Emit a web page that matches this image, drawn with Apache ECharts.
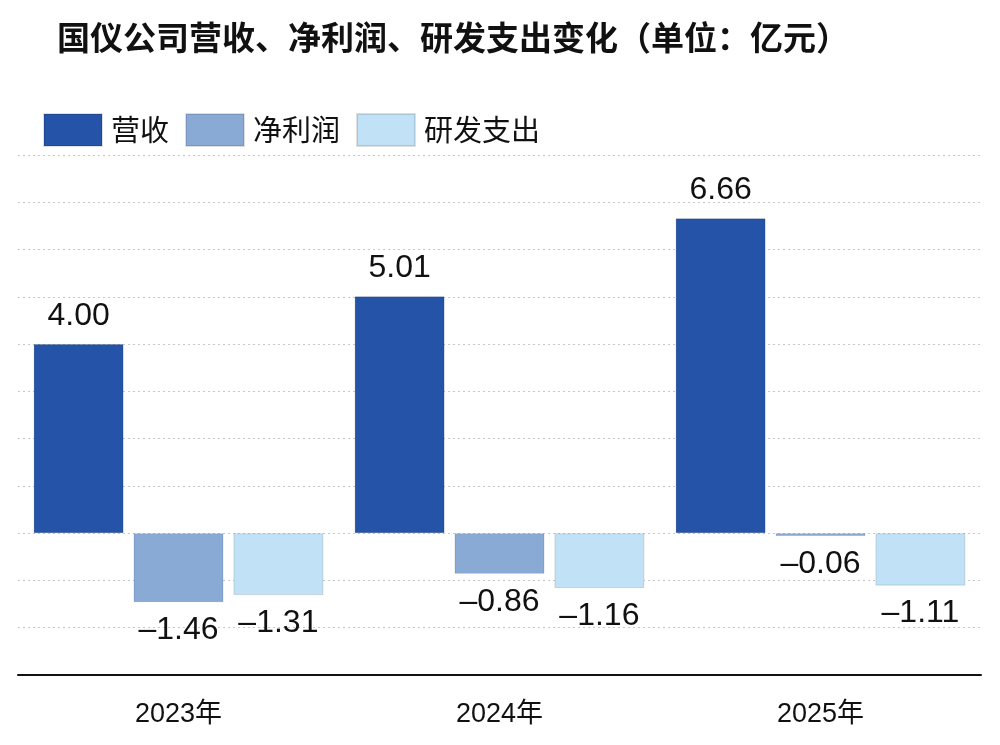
<!DOCTYPE html><html><head><meta charset="utf-8"><script src="https://cdn.jsdelivr.net/npm/echarts@6/dist/echarts.min.js"></script></head><body style="margin:0"><div id="c" style="width:1000px;height:745px"></div><script>
const categories=['2023年','2024年','2025年'];
const revenue=[4.00,5.01,6.66];
const profit=[-1.46,-0.86,-0.06];
const rnd=[-1.31,-1.16,-1.11];
const F='"Noto Sans CJK SC", sans-serif';
const N='"Liberation Sans","Noto Sans CJK SC", sans-serif';
const lab={show:true,fontSize:32,distance:12,color:'#111',fontFamily:N,formatter:p=>p.value<0?'\u2013'+Math.abs(p.value).toFixed(2):p.value.toFixed(2)};
function s(name,data,color){return {name,type:'bar',barWidth:90,barGap:'11%',itemStyle:{color,borderColor:'rgba(0,0,0,0.12)',borderWidth:1},
 label:Object.assign({},lab,{position:'top'}),
 data:data.map(v=>({value:v,label:{position:v<0?'bottom':'top'}}))};}
const ch=echarts.init(document.getElementById('c'));
ch.setOption({
 title:{text:'国仪公司营收、净利润、研发支出变化（单位：亿元）',left:52,top:16,textStyle:{fontSize:33,fontWeight:'bold',color:'#111',fontFamily:F}},
 legend:{left:38,top:108,itemWidth:58,itemHeight:32,itemGap:16,icon:'rect',textStyle:{fontSize:29,color:'#111',fontFamily:F,padding:[0,0,0,4]},data:['营收','净利润','研发支出']},
 grid:{left:18,right:19,top:155,bottom:70,containLabel:false},
 xAxis:{type:'category',data:categories,axisLine:{onZero:false,lineStyle:{color:'#111',width:2}},axisTick:{show:false},axisLabel:{fontSize:27,color:'#111',margin:26,fontFamily:N}},
 yAxis:{type:'value',min:-3,max:8,interval:1,axisLabel:{show:false},axisLine:{show:false},axisTick:{show:false},splitLine:{lineStyle:{color:'#c8c8c8',type:[2,3]}}},
 series:[s('营收',revenue,'#2553a8'),s('净利润',profit,'#8aaad6'),s('研发支出',rnd,'#c1e1f6')]
});
</script></body></html>
